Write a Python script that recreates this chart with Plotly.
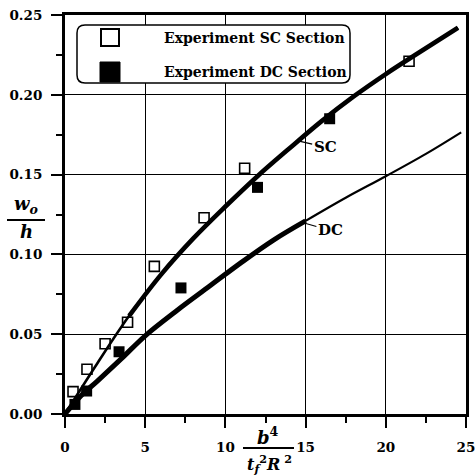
import plotly.graph_objects as go

# Measured deflection ratios, single-cell (SC) and double-cell (DC) sections
sc_x = [0.5, 1.37, 2.5, 3.9, 5.57, 8.67, 11.2, 21.45]
sc_y = [0.014, 0.028, 0.044, 0.0575, 0.0925, 0.123, 0.154, 0.221]
dc_x = [0.62, 1.35, 3.37, 7.23, 12.0, 16.5]
dc_y = [0.006, 0.0144, 0.039, 0.079, 0.142, 0.185]

# Predicted curves
sc_fit_x = [0, 2, 4, 6, 8, 10, 12, 14, 16, 18, 20, 22, 24.5]
sc_fit_y = [0, 0.0315, 0.0615, 0.0875, 0.110, 0.130, 0.149, 0.1665, 0.1835, 0.199, 0.213, 0.226, 0.242]
dc_fit_x = [0, 1, 2, 3.5, 5, 7, 9, 11, 13, 15, 17.5, 20, 22.5, 24.7]
dc_fit_y = [0, 0.0115, 0.0205, 0.0345, 0.049, 0.065, 0.080, 0.095, 0.109, 0.121, 0.1355, 0.149, 0.163, 0.1765]

x_ticks = [0, 5, 10, 15, 20, 25]
y_ticks = [0.0, 0.05, 0.10, 0.15, 0.20, 0.25]

W, H = 476, 475
L, R, T, B = 65, 10, 15, 61
PW, PH = W - L - R, H - T - B

def px(x):
    return (x - L) / PW

def py(y):
    return (H - B - y) / PH

SERIF = "DejaVu Serif"

fig = go.Figure()

fig.add_trace(go.Scatter(x=sc_x, y=sc_y, mode="markers",
                         marker=dict(symbol="square", size=10, color="white",
                                     line=dict(color="black", width=1.6)),
                         showlegend=False))
fig.add_trace(go.Scatter(x=dc_x, y=dc_y, mode="markers",
                         marker=dict(symbol="square", size=11, color="black",
                                     line=dict(color="black", width=0)),
                         showlegend=False))

# thin full curves plus heavier overlay portions
fig.add_trace(go.Scatter(x=sc_fit_x, y=sc_fit_y, mode="lines", line_shape="spline",
                         line=dict(color="black", width=2.6), showlegend=False))
fig.add_trace(go.Scatter(x=sc_fit_x[2:], y=sc_fit_y[2:], mode="lines", line_shape="spline",
                         line=dict(color="black", width=4.6), showlegend=False))
fig.add_trace(go.Scatter(x=dc_fit_x, y=dc_fit_y, mode="lines", line_shape="spline",
                         line=dict(color="black", width=2.2), showlegend=False))
fig.add_trace(go.Scatter(x=dc_fit_x[:10], y=dc_fit_y[:10], mode="lines", line_shape="spline",
                         line=dict(color="black", width=5), showlegend=False))

axis_common = dict(showline=True, linecolor="black", linewidth=3, mirror=True,
                   ticks="outside", ticklen=11, tickwidth=2, tickcolor="black",
                   showgrid=True, gridcolor="black", gridwidth=1.4, zeroline=False,
                   automargin=False,
                   tickfont=dict(family=SERIF, size=13.5, color="black", weight="bold"))

fig.update_xaxes(range=[0, 25], tickvals=x_ticks, ticktext=[str(v) for v in x_ticks],
                 minor=dict(dtick=2.5, tick0=0, ticks="outside", ticklen=6, tickwidth=2,
                            tickcolor="black", showgrid=False),
                 ticklabelstandoff=8, **axis_common)
fig.update_yaxes(range=[0, 0.25], tickvals=y_ticks, ticktext=[f"{v:.2f}" for v in y_ticks],
                 minor=dict(dtick=0.025, tick0=0, ticks="outside", ticklen=6, tickwidth=2,
                            tickcolor="black", showgrid=False),
                 ticklabelstandoff=6, **axis_common)

shapes = []
annotations = []

# legend box with rounded corners
x0, x1, y0, y1 = 77, 350, 25, 83
r = 8
path = (f"M {px(x0 + r)},{py(y0)} L {px(x1 - r)},{py(y0)} "
        f"Q {px(x1)},{py(y0)} {px(x1)},{py(y0 + r)} L {px(x1)},{py(y1 - r)} "
        f"Q {px(x1)},{py(y1)} {px(x1 - r)},{py(y1)} L {px(x0 + r)},{py(y1)} "
        f"Q {px(x0)},{py(y1)} {px(x0)},{py(y1 - r)} L {px(x0)},{py(y0 + r)} "
        f"Q {px(x0)},{py(y0)} {px(x0 + r)},{py(y0)} Z")
shapes.append(dict(type="path", path=path, xref="paper", yref="paper",
                   fillcolor="white", line=dict(color="black", width=1.5), layer="above"))
shapes.append(dict(type="rect", xref="paper", yref="paper",
                   x0=px(101), x1=px(119), y0=py(46), y1=py(29),
                   fillcolor="white", line=dict(color="black", width=2), layer="above"))
shapes.append(dict(type="rect", xref="paper", yref="paper",
                   x0=px(100), x1=px(120), y0=py(82), y1=py(62),
                   fillcolor="black", line=dict(color="black", width=1), layer="above"))
for txt, yy in [("Experiment SC Section", 38), ("Experiment DC Section", 72)]:
    annotations.append(dict(text=txt, xref="paper", yref="paper", x=px(162), y=py(yy),
                            xanchor="left", yanchor="middle", showarrow=False,
                            font=dict(family=SERIF, size=14, color="black", weight="bold")))

# curve labels with leaders
annotations.append(dict(text="SC", x=14.6, y=0.171, ax=26, ay=6, showarrow=True,
                        arrowhead=0, arrowwidth=1.2, arrowcolor="black", standoff=0,
                        font=dict(family=SERIF, size=15, color="black", weight="bold")))
annotations.append(dict(text="DC", x=14.8, y=0.12, ax=28, ay=8, showarrow=True,
                        arrowhead=0, arrowwidth=1.2, arrowcolor="black", standoff=0,
                        font=dict(family=SERIF, size=15, color="black", weight="bold")))

# y-axis title: w_o / h
annotations.append(dict(text="<i>w<sub>o</sub></i>", xref="paper", yref="paper",
                        x=px(26), y=py(219), xanchor="center", yanchor="bottom",
                        showarrow=False,
                        font=dict(family=SERIF, size=18, color="black", weight="bold")))
shapes.append(dict(type="line", xref="paper", yref="paper", x0=px(7), x1=px(45),
                   y0=py(220), y1=py(220), line=dict(color="black", width=1.8)))
annotations.append(dict(text="<i>h</i>", xref="paper", yref="paper",
                        x=px(26), y=py(219), xanchor="center", yanchor="top",
                        showarrow=False,
                        font=dict(family=SERIF, size=18, color="black", weight="bold")))

# x-axis title: b^4 / (t_f^2 R^2)
annotations.append(dict(text="<i>b</i><sup>4</sup>", xref="paper", yref="paper",
                        x=px(268), y=py(450), xanchor="center", yanchor="bottom",
                        showarrow=False,
                        font=dict(family=SERIF, size=18, color="black", weight="bold")))
shapes.append(dict(type="line", xref="paper", yref="paper", x0=px(243), x1=px(294),
                   y0=py(448), y1=py(448), line=dict(color="black", width=1.8)))
annotations.append(dict(text="<i>t</i><sub><i>f</i></sub><sup>2</sup><i>R</i><sup> 2</sup>",
                        xref="paper", yref="paper",
                        x=px(269), y=py(450), xanchor="center", yanchor="top",
                        showarrow=False,
                        font=dict(family=SERIF, size=16, color="black", weight="bold")))

fig.update_layout(width=W, height=H, margin=dict(l=L, r=R, t=T, b=B),
                  paper_bgcolor="white", plot_bgcolor="white",
                  shapes=shapes, annotations=annotations, showlegend=False)

fig.write_html("out.html")
